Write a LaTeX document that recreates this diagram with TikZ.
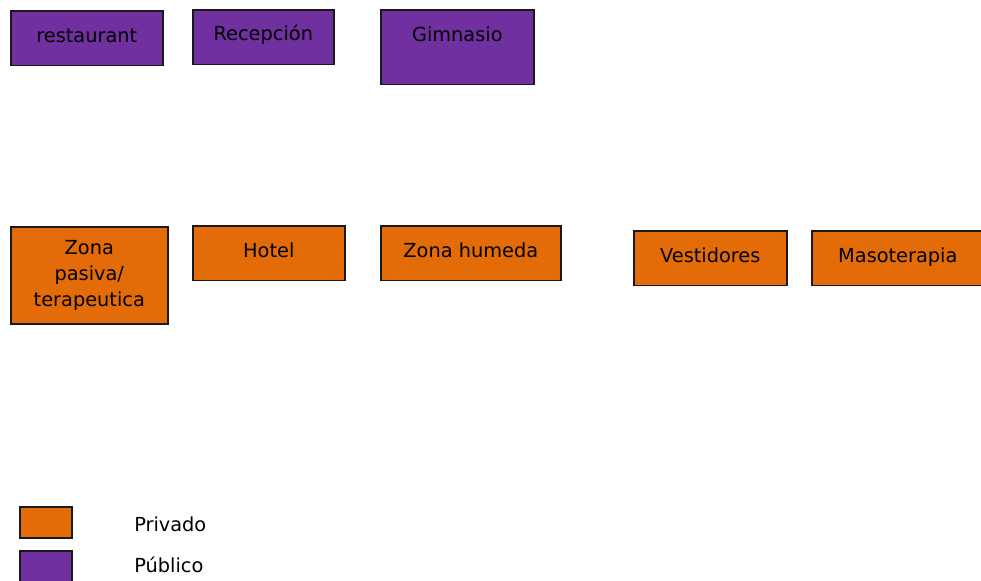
\documentclass[tikz,border=0pt]{standalone}
\usepackage{fontspec}
\setmainfont{DejaVu Sans}
\usepackage{tikz}
\usetikzlibrary{positioning}
\definecolor{morado}{HTML}{7030A0}
\definecolor{naranja}{HTML}{E36C09}

\begin{document}
\begin{tikzpicture}[x=0.75pt,y=-0.75pt,
    zona/.style={rectangle,draw=black!90,line width=1.2pt,inner sep=0pt,anchor=north west,
                 font=\fontsize{14.5pt}{19.5pt}\selectfont,text height=24pt,text depth=17pt},
    publico/.style={zona,fill=morado},
    privado/.style={zona,fill=naranja},
    leyenda/.style={font=\fontsize{14.5pt}{16pt}\selectfont,anchor=base west,inner sep=0pt}]
  \useasboundingbox (0,0) rectangle (981,581);
  % zonas publicas
  \node[publico,minimum width=152*0.75pt](rest)at(10,10){restaurant};
  \node[publico,minimum width=141*0.75pt,text height=23pt,text depth=18pt](recep)at(192,9){Recepción};
  \node[publico,minimum width=153*0.75pt,text height=24pt,text depth=32pt](gimn)at(380,9){Gimnasio};
  % zonas privadas
  \node[privado,minimum width=157*0.75pt,minimum height=97*0.75pt,align=center,
        text height=,text depth=](pasiva)at(10,226){Zona\\pasiva/\\terapeutica};
  \node[privado,minimum width=152*0.75pt](hotel)at(192,225){Hotel};
  \node[privado,minimum width=180*0.75pt](humeda)at(380,225){Zona humeda};
  \node[privado,minimum width=153*0.75pt](vest)at(633,230){Vestidores};
  \node[privado,minimum width=172*0.75pt](maso)at(811,230){Masoterapia};
  % leyenda
  \node[privado,minimum width=52*0.75pt,minimum height=31*0.75pt,text height=,text depth=](lpriv)at(19,506){};
  \node[publico,minimum width=52*0.75pt,minimum height=31*0.75pt,text height=,text depth=](lpub)at(19,550){};
  \node[leyenda](tpriv)at(134,531){Privado};
  \node[leyenda](tpub)at(134,572){Público};
\end{tikzpicture}
\end{document}
